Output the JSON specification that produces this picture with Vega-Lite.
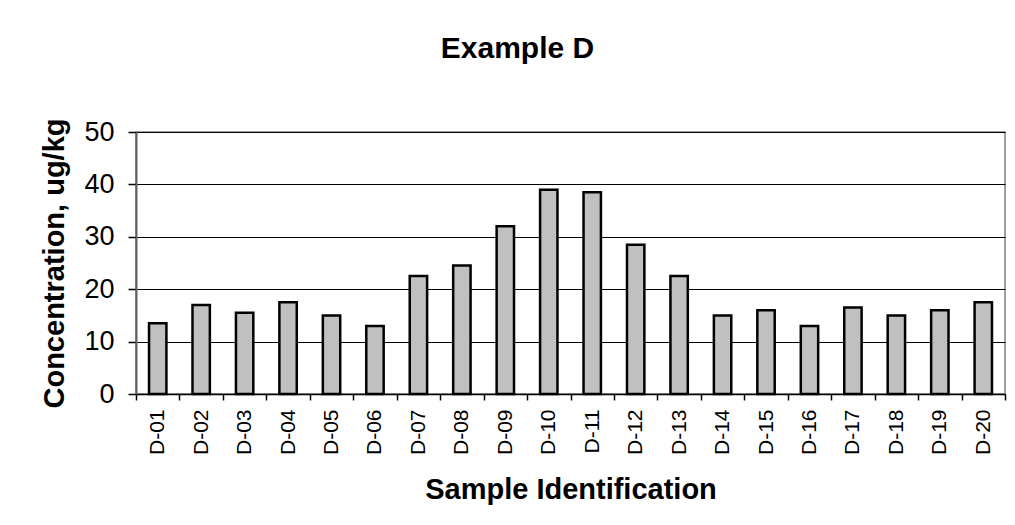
{
  "$schema": "https://vega.github.io/schema/vega-lite/v6.json",
  "width": 869,
  "height": 262,
  "autosize": {"type": "none"},
  "padding": {"left": 136, "top": 132, "right": 10, "bottom": 131},
  "background": "white",
  "title": {
    "text": "Example D",
    "font": "Liberation Sans",
    "fontSize": 30,
    "fontWeight": "bold",
    "color": "black",
    "anchor": "middle",
    "frame": "group",
    "dx": -53,
    "baseline": "alphabetic",
    "offset": 30
  },
  "config": {
    "view": {"stroke": "#808080", "strokeWidth": 1.5},
    "font": "Liberation Sans"
  },
  "data": {
    "values": [
      {"sample": "D-01", "conc": 13.5},
      {"sample": "D-02", "conc": 17.0},
      {"sample": "D-03", "conc": 15.5},
      {"sample": "D-04", "conc": 17.5},
      {"sample": "D-05", "conc": 15.0},
      {"sample": "D-06", "conc": 13.0},
      {"sample": "D-07", "conc": 22.5},
      {"sample": "D-08", "conc": 24.5},
      {"sample": "D-09", "conc": 32.0},
      {"sample": "D-10", "conc": 39.0},
      {"sample": "D-11", "conc": 38.5},
      {"sample": "D-12", "conc": 28.5},
      {"sample": "D-13", "conc": 22.5},
      {"sample": "D-14", "conc": 15.0},
      {"sample": "D-15", "conc": 16.0},
      {"sample": "D-16", "conc": 13.0},
      {"sample": "D-17", "conc": 16.5},
      {"sample": "D-18", "conc": 15.0},
      {"sample": "D-19", "conc": 16.0},
      {"sample": "D-20", "conc": 17.5}
    ]
  },
  "mark": {
    "type": "bar",
    "fill": "#c0c0c0",
    "stroke": "black",
    "strokeWidth": 2.5,
    "width": {"band": 0.4}
  },
  "encoding": {
    "x": {
      "field": "sample",
      "type": "nominal",
      "sort": null,
      "scale": {"paddingInner": 0, "paddingOuter": 0},
      "axis": {
        "title": "Sample Identification",
        "titleFont": "Liberation Sans",
        "titleFontSize": 29,
        "titleFontWeight": "bold",
        "titleColor": "black",
        "titlePadding": 21,
        "labelAngle": -90,
        "labelFont": "Liberation Sans",
        "labelFontSize": 21,
        "labelColor": "black",
        "labelPadding": 9,
        "tickBand": "extent",
        "tickColor": "black",
        "tickSize": 6,
        "tickWidth": 1.5,
        "domainColor": "black",
        "domainWidth": 1.5,
        "grid": false
      }
    },
    "y": {
      "field": "conc",
      "type": "quantitative",
      "scale": {"domain": [0, 50], "nice": false},
      "axis": {
        "title": "Concentration, ug/kg",
        "titleFont": "Liberation Sans",
        "titleFontSize": 29,
        "titleFontWeight": "bold",
        "titleColor": "black",
        "titlePadding": 14,
        "values": [0, 10, 20, 30, 40, 50],
        "labelFont": "Liberation Sans",
        "labelFontSize": 27,
        "labelColor": "black",
        "labelPadding": 14,
        "tickColor": "black",
        "tickSize": 8,
        "tickWidth": 1.5,
        "domainColor": "#606060",
        "domainWidth": 2,
        "grid": true,
        "gridColor": "black",
        "gridWidth": 1
      }
    }
  }
}
